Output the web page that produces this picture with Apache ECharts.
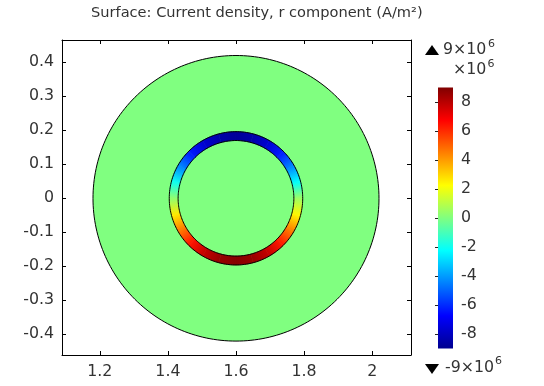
<!DOCTYPE html>
<html><head><meta charset="utf-8">
<script src="https://cdn.jsdelivr.net/npm/echarts@6/dist/echarts.min.js"></script>
<style>html,body{margin:0;padding:0;background:#fff}#c{width:544px;height:386px}</style>
</head><body><div id="c"></div>
<script>
// ---- data ----
const xTicks = [1.2, 1.4, 1.6, 1.8, 2];
const yTicks = [-0.4, -0.3, -0.2, -0.1, 0, 0.1, 0.2, 0.3, 0.4];
const colorTicks = [-8, -6, -4, -2, 0, 2, 4, 6, 8];
const colorRange = [-9, 9];            // ×10^6 A/m²
const domainCenter = [1.6, 0];
const domainRadius = 0.42;
const ringRadii = [0.17, 0.196];
const backgroundValue = 0;
const ringAngles = [0, 15, 30, 45, 60, 75, 90, 105, 120, 135, 150, 165, 180, 195, 210, 225, 240, 255, 270, 285, 300, 315, 330, 345];
const ringValues = [0.5, -2.2, -4.4, -6.3, -7.7, -8.5, -8.8, -8.5, -7.7, -6.3, -4.4, -2.0, 0.3, 2.6, 4.6, 6.4, 7.8, 8.6, 8.9, 8.6, 7.8, 6.3, 4.5, 2.4];

// ---- colormap (jet) ----
const jetStops = [
  [0, [0, 0, 143]], [0.125, [0, 0, 255]], [0.375, [0, 255, 255]],
  [0.5, [128, 255, 128]], [0.625, [255, 255, 0]], [0.875, [255, 0, 0]], [1, [128, 0, 0]]
];
function jet(v) {
  let t = (v - colorRange[0]) / (colorRange[1] - colorRange[0]);
  t = Math.max(0, Math.min(1, t));
  for (let i = 1; i < jetStops.length; i++) {
    if (t <= jetStops[i][0]) {
      const a = jetStops[i - 1], b = jetStops[i];
      const f = (t - a[0]) / (b[0] - a[0]);
      const c = a[1].map((x, k) => Math.round(x + (b[1][k] - x) * f));
      return 'rgb(' + c.join(',') + ')';
    }
  }
  return 'rgb(128,0,0)';
}

const FONT = 'DejaVu Sans';
const FS = 15.8;
const TXT = '#333';
const cx = domainCenter[0], cy = domainCenter[1];
const D2R = Math.PI / 180;

function circlePts(api, r) {
  const pts = [];
  for (let k = 0; k < 240; k++) {
    const a = k / 240 * 2 * Math.PI;
    pts.push(api.coord([cx + r * Math.cos(a), cy + r * Math.sin(a)]));
  }
  return pts;
}

const ringData = ringAngles.map((a, i) => {
  const n = ringAngles.length;
  const a1 = i + 1 < n ? ringAngles[i + 1] : 360;
  return [a, a1, ringValues[i], ringValues[(i + 1) % n]];
});

const chart = echarts.init(document.getElementById('c'), null, { renderer: 'canvas' });

const xMin = 1.089, xMax = 2.114, yMin = -0.4609, yMax = 0.4656;

function axisCommon(pos, showLabels, ticks) {
  return {
    type: 'value', position: pos,
    axisLine: { show: true, onZero: false, lineStyle: { color: '#000', width: 1 } },
    axisTick: { show: true, inside: true, length: 4, customValues: ticks, lineStyle: { color: '#000' } },
    axisLabel: { show: showLabels, customValues: ticks, fontFamily: FONT, fontSize: FS, color: TXT, margin: pos === 'bottom' ? 9 : 8 },
    splitLine: { show: false }
  };
}

const supFont = '11px "DejaVu Sans"';
const mainFont = FS + 'px "DejaVu Sans"';

const option = {
  animation: false,
  backgroundColor: '#fff',
  title: {
    text: 'Surface: Current density, r component (A/m²)',
    left: 91, top: 6, padding: 0,
    textStyle: { fontFamily: FONT, fontSize: 14.6, fontWeight: 'normal', color: TXT }
  },
  grid: [
    { left: 62, top: 40, width: 349, height: 315 },
    { left: 438, top: 87.5, width: 15, height: 261 }
  ],
  xAxis: [
    Object.assign(axisCommon('bottom', true, xTicks), { gridIndex: 0, min: xMin, max: xMax }),
    Object.assign(axisCommon('top', false, xTicks), { gridIndex: 0, min: xMin, max: xMax }),
    { type: 'value', gridIndex: 1, min: 0, max: 1, show: false }
  ],
  yAxis: [
    Object.assign(axisCommon('left', true, yTicks), { gridIndex: 0, min: yMin, max: yMax }),
    Object.assign(axisCommon('right', false, yTicks), { gridIndex: 0, min: yMin, max: yMax }),
    {
      type: 'value', gridIndex: 1, min: colorRange[0], max: colorRange[1], position: 'right',
      axisLine: { show: false },
      axisTick: { show: true, inside: true, length: 3, customValues: colorTicks, lineStyle: { color: '#222' } },
      axisLabel: { customValues: colorTicks, fontFamily: FONT, fontSize: FS, color: TXT, margin: 8 },
      splitLine: { show: false }
    }
  ],
  series: [
    {
      type: 'custom', xAxisIndex: 0, yAxisIndex: 0, clip: false, silent: true,
      data: [[cx, cy, backgroundValue]],
      renderItem: (p, api) => ({
        type: 'polygon', shape: { points: circlePts(api, domainRadius) },
        style: { fill: jet(api.value(2)), stroke: null }
      })
    },
    {
      type: 'custom', xAxisIndex: 0, yAxisIndex: 0, clip: false, silent: true,
      data: ringData,
      renderItem: (p, api) => {
        const a0 = api.value(0), a1 = api.value(1), v0 = api.value(2), v1 = api.value(3);
        const steps = 8, pts = [];
        for (let k = 0; k <= steps; k++) {
          const a = (a0 + (a1 - a0) * k / steps) * D2R;
          pts.push(api.coord([cx + ringRadii[1] * Math.cos(a), cy + ringRadii[1] * Math.sin(a)]));
        }
        for (let k = steps; k >= 0; k--) {
          const a = (a0 + (a1 - a0) * k / steps) * D2R;
          pts.push(api.coord([cx + ringRadii[0] * Math.cos(a), cy + ringRadii[0] * Math.sin(a)]));
        }
        const rm = (ringRadii[0] + ringRadii[1]) / 2;
        const p0 = api.coord([cx + rm * Math.cos(a0 * D2R), cy + rm * Math.sin(a0 * D2R)]);
        const p1 = api.coord([cx + rm * Math.cos(a1 * D2R), cy + rm * Math.sin(a1 * D2R)]);
        const grad = new echarts.graphic.LinearGradient(p0[0], p0[1], p1[0], p1[1],
          [{ offset: 0, color: jet(v0) }, { offset: 1, color: jet(v1) }], true);
        return { type: 'polygon', shape: { points: pts }, style: { fill: grad, stroke: grad, lineWidth: 0.6 } };
      }
    },
    {
      type: 'custom', xAxisIndex: 0, yAxisIndex: 0, clip: false, silent: true,
      data: [[domainRadius], [ringRadii[0]], [ringRadii[1]]],
      encode: { x: -1, y: -1 },
      renderItem: (p, api) => ({
        type: 'polygon', shape: { points: circlePts(api, api.value(0)) },
        style: { fill: null, stroke: '#000', lineWidth: 1 }
      })
    },
    {
      type: 'custom', xAxisIndex: 2, yAxisIndex: 2, clip: false, silent: true,
      data: [[colorRange[0], colorRange[1]]],
      encode: { x: -1, y: [0, 1] },
      renderItem: (p, api) => {
        const pb = api.coord([0, api.value(0)]);
        const pt = api.coord([1, api.value(1)]);
        const stops = jetStops.map(s => ({ offset: s[0], color: 'rgb(' + s[1].join(',') + ')' }));
        return {
          type: 'rect', shape: { x: pb[0], y: pt[1], width: pt[0] - pb[0], height: pb[1] - pt[1] },
          style: { fill: new echarts.graphic.LinearGradient(0, 1, 0, 0, stops) }
        };
      }
    }
  ],
  graphic: [
    { type: 'polygon', shape: { points: [[425, 55], [439, 55], [432, 45]] }, style: { fill: '#000' } },
    { type: 'text', x: 443, y: 42, style: { text: '9×10', font: mainFont, fill: TXT } },
    { type: 'text', x: 488, y: 39, style: { text: '6', font: supFont, fill: TXT } },
    { type: 'text', x: 453, y: 62, style: { text: '×10', font: mainFont, fill: TXT } },
    { type: 'text', x: 487.5, y: 59, style: { text: '6', font: supFont, fill: TXT } },
    { type: 'polygon', shape: { points: [[425, 364], [439, 364], [432, 374]] }, style: { fill: '#000' } },
    { type: 'text', x: 445, y: 360, style: { text: '-9×10', font: mainFont, fill: TXT } },
    { type: 'text', x: 495, y: 356, style: { text: '6', font: supFont, fill: TXT } }
  ]
};
chart.setOption(option);
</script>
</body></html>
